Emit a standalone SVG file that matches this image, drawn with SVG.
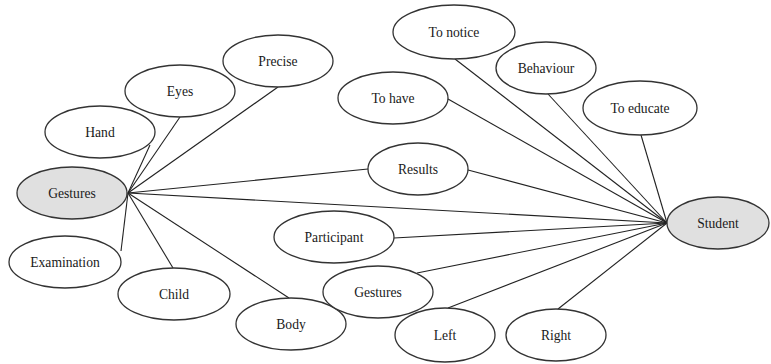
<svg xmlns="http://www.w3.org/2000/svg" width="771" height="364" viewBox="0 0 771 364">
<style>
.n ellipse{fill:#fff;stroke:#333;stroke-width:1.3}
.n.hub ellipse{fill:#e0e0e0}
.n text{font-size:13.6px;fill:#1a1a1a;text-anchor:middle}
#connectors line{stroke:#222;stroke-width:1.1}
</style>
<rect width="771" height="364" fill="#fff"/>
<g id="connectors">
<line x1="128" y1="193" x2="150" y2="145"/>
<line x1="128" y1="193" x2="180" y2="117"/>
<line x1="128" y1="193" x2="278" y2="87"/>
<line x1="128" y1="193" x2="368" y2="169"/>
<line x1="128" y1="193" x2="667" y2="223"/>
<line x1="128" y1="193" x2="121" y2="251"/>
<line x1="128" y1="193" x2="173" y2="268"/>
<line x1="128" y1="193" x2="289" y2="298"/>
<line x1="667" y1="223" x2="455" y2="59"/>
<line x1="667" y1="223" x2="548" y2="94"/>
<line x1="667" y1="223" x2="448" y2="99"/>
<line x1="667" y1="223" x2="641" y2="135"/>
<line x1="667" y1="223" x2="468" y2="170"/>
<line x1="667" y1="223" x2="394" y2="238"/>
<line x1="667" y1="223" x2="417" y2="273"/>
<line x1="667" y1="223" x2="448" y2="308"/>
<line x1="667" y1="223" x2="558" y2="309"/>
</g>
<g font-family="'Liberation Serif', 'Times New Roman', 'DejaVu Serif', serif">
<g id="n-precise" class="n"><ellipse cx="278" cy="61" rx="55" ry="26"/><text x="278" y="65.5">Precise</text></g>
<g id="n-eyes" class="n"><ellipse cx="180" cy="91" rx="55" ry="26"/><text x="180" y="95.5">Eyes</text></g>
<g id="n-hand" class="n"><ellipse cx="100" cy="132" rx="55" ry="26"/><text x="100" y="136.5">Hand</text></g>
<g id="n-gestures-left" class="n hub"><ellipse cx="72" cy="193" rx="55" ry="26"/><text x="72" y="197.5">Gestures</text></g>
<g id="n-examination" class="n"><ellipse cx="65" cy="262" rx="56" ry="26"/><text x="65" y="266.5">Examination</text></g>
<g id="n-child" class="n"><ellipse cx="174" cy="294" rx="56" ry="26"/><text x="174" y="298.5">Child</text></g>
<g id="n-body" class="n"><ellipse cx="291" cy="324" rx="55" ry="26"/><text x="291" y="328.5">Body</text></g>
<g id="n-to-notice" class="n"><ellipse cx="454" cy="32" rx="61" ry="27"/><text x="454" y="36.5">To notice</text></g>
<g id="n-behaviour" class="n"><ellipse cx="546" cy="68" rx="50" ry="26"/><text x="546" y="72.5">Behaviour</text></g>
<g id="n-to-have" class="n"><ellipse cx="393" cy="98" rx="55" ry="26"/><text x="393" y="102.5">To have</text></g>
<g id="n-to-educate" class="n"><ellipse cx="640" cy="108" rx="57" ry="27"/><text x="640" y="112.5">To educate</text></g>
<g id="n-results" class="n"><ellipse cx="418" cy="169" rx="50" ry="26"/><text x="418" y="173.5">Results</text></g>
<g id="n-participant" class="n"><ellipse cx="334" cy="237" rx="60" ry="26"/><text x="334" y="241.5">Participant</text></g>
<g id="n-gestures-lower" class="n"><ellipse cx="378" cy="292" rx="55" ry="26"/><text x="378" y="296.5">Gestures</text></g>
<g id="n-left" class="n"><ellipse cx="445" cy="335" rx="50" ry="27"/><text x="445" y="339.5">Left</text></g>
<g id="n-right" class="n"><ellipse cx="556" cy="335" rx="50" ry="26"/><text x="556" y="339.5">Right</text></g>
<g id="n-student" class="n hub"><ellipse cx="718" cy="223" rx="51" ry="26"/><text x="718" y="227.5">Student</text></g>
</g>
</svg>
